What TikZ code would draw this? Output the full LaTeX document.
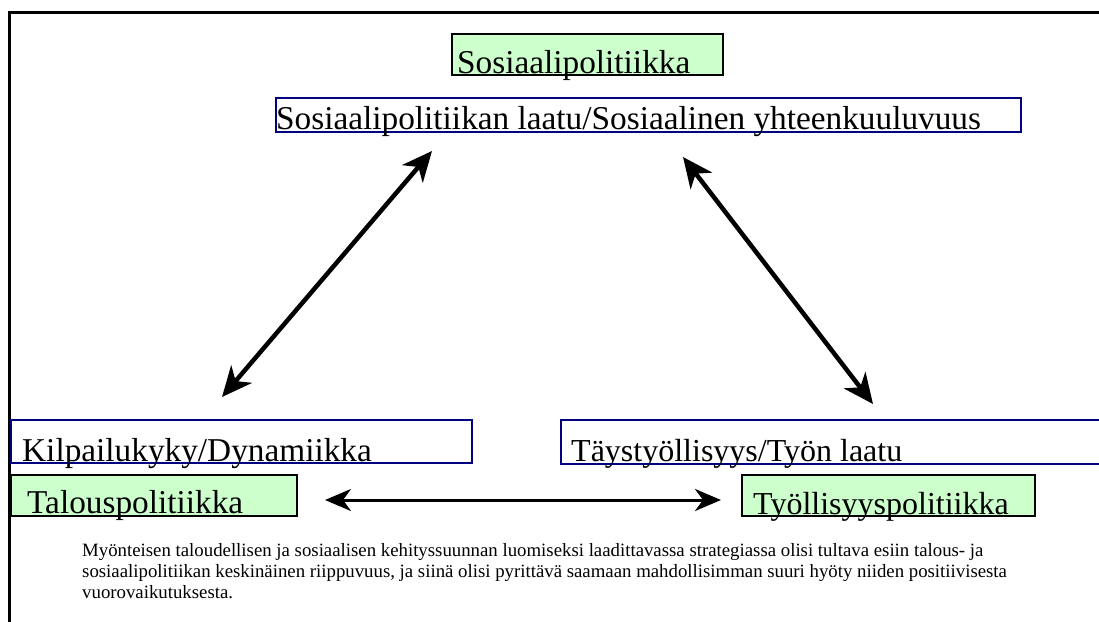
\documentclass[tikz,border=0pt]{standalone}
\usepackage{fontspec}
\setmainfont{Liberation Serif}
\usetikzlibrary{arrows.meta}
\definecolor{lgreen}{HTML}{CCFFCC}
\definecolor{navyb}{HTML}{000080}
\begin{document}
\begin{tikzpicture}[x=1pt,y=-1pt,
  bigtext/.style={inner sep=0pt, anchor=base west, font=\fontsize{33.3}{40}\selectfont},
  smalltext/.style={inner sep=0pt, anchor=base west, font=\fontsize{18.8}{21}\selectfont},
  bluebox/.style={draw=navyb, line width=1.6pt, inner sep=0pt, anchor=north west},
  greenbox/.style={draw=black, fill=lgreen, line width=1.6pt, inner sep=0pt, anchor=north west},
  dbl/.style={{Stealth[length=30pt,width=27pt,inset=9pt]}-{Stealth[length=30pt,width=27pt,inset=9pt]}, line width=4.5pt},
  hdbl/.style={{Stealth[length=26pt,width=22pt,inset=8pt]}-{Stealth[length=26pt,width=22pt,inset=8pt]}, line width=3pt}]
\useasboundingbox (0,0) rectangle (1099,621);
% frame
\draw[line width=3pt] (9,623) -- (9,12) -- (1101,12);
% boxes
\node[greenbox, minimum width=271pt, minimum height=41pt] (gtop) at (451,33) {};
\node[bluebox, minimum width=745pt, minimum height=34pt] (btop) at (275,97) {};
\node[bluebox, minimum width=461pt, minimum height=43pt] (bleft) at (10,419) {};
\node[bluebox, minimum width=545pt, minimum height=44pt] (bright) at (560,419) {};
\node[greenbox, minimum width=286pt, minimum height=41pt] (gleft) at (10,474) {};
\node[greenbox, minimum width=293pt, minimum height=41pt] (gright) at (741,474) {};
% texts
\node[bigtext] (tgtop) at (457,73) {Sosiaalipolitiikka};
\node[bigtext] (tbtop) at (276,129) {Sosiaalipolitiikan laatu/Sosiaalinen yhteenkuuluvuus};
\node[bigtext] (tbleft) at (22,461) {Kilpailukyky/Dynamiikka};
\node[bigtext, font=\fontsize{32}{40}\selectfont] (tbright) at (571,461) {Täystyöllisyys/Työn laatu};
\node[bigtext] (tgleft) at (27,513) {Talouspolitiikka};
\node[bigtext, font=\fontsize{32}{40}\selectfont] (tgright) at (753,514) {Työllisyyspolitiikka};
% arrows
\coordinate (l1) at (432,151);
\coordinate (l2) at (222,397);
\coordinate (r1) at (683,157);
\coordinate (r2) at (873,404);
\coordinate (h1) at (325,500);
\coordinate (h2) at (721,500);
\draw[dbl] (l1) -- (l2);
\draw[dbl] (r1) -- (r2);
\draw[hdbl] (h1) -- (h2);
% caption
\node[smalltext] (c1) at (82,556) {Myönteisen taloudellisen ja sosiaalisen kehityssuunnan luomiseksi laadittavassa strategiassa olisi tultava esiin talous- ja};
\node[smalltext] (c2) at (82,577) {sosiaalipolitiikan keskinäinen riippuvuus, ja siinä olisi pyrittävä saamaan mahdollisimman suuri hyöty niiden positiivisesta};
\node[smalltext] (c3) at (82,598) {vuorovaikutuksesta.};
\end{tikzpicture}
\end{document}
